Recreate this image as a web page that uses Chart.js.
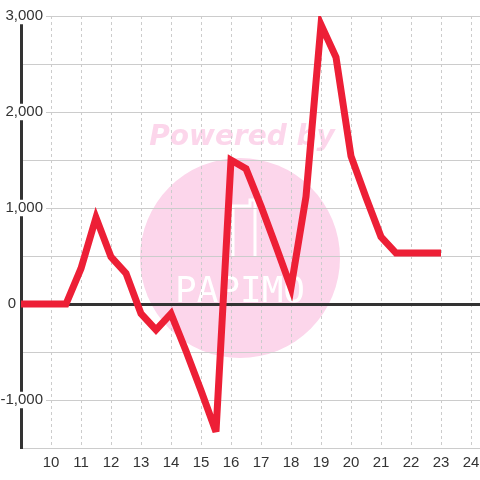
<!DOCTYPE html>
<html>
<head>
<meta charset="utf-8">
<script src="https://cdn.jsdelivr.net/npm/chart.js@4/dist/chart.umd.min.js"></script>
<style>
html, body { margin: 0; padding: 0; background: #fff; }
</style>
</head>
<body>
<canvas id="chart" width="480" height="480"></canvas>
<script>
// hour of day (x) and value (y)
let hours = [9, 9.5, 10, 10.5, 11, 11.5, 12, 12.5, 13, 13.5, 14, 14.5, 15, 15.5,
    16, 16.5, 17, 17.5, 18, 18.5, 19, 19.5, 20, 20.5, 21, 21.5, 22, 22.5, 23];
let values = [0, 0, 0, 0, 370, 900, 490, 320, -100, -270, -100, -490, -900, -1330,
    1500, 1410, 1020, 600, 170, 1120, 2910, 2570, 1540, 1110, 700, 530, 530, 530, 530];

let xMin = 9, xMax = 24.3;
let yMin = -1500, yMax = 3000, yStep = 500, yLabelStep = 1000;

let points = hours.map((h, i) => ({ x: h, y: values[i] }));

let tickFont = { family: 'Liberation Sans', size: 15, lineHeight: 1.1 };
let labelColor = '#333';

// "Powered by" watermark behind everything
let watermark = {
    id: 'watermark',
    beforeDraw(chart) {
        // y labels sit over the axis line, so don't clip them to the axis box
        chart.scales.y._computeLabelArea = () => undefined;
        chart.scales.yZero._computeLabelArea = () => undefined;

        let ctx = chart.ctx;
        ctx.save();
        ctx.fillStyle = '#fcd6eb';
        ctx.beginPath();
        ctx.arc(240, 258, 100, 0, Math.PI * 2);
        ctx.fill();
        ctx.font = 'italic bold 28px "DejaVu Sans"';
        ctx.textAlign = 'center';
        ctx.textBaseline = 'alphabetic';
        ctx.fillText('Powered by', 242, 145);
        ctx.strokeStyle = '#fff';
        ctx.lineWidth = 3;
        ctx.beginPath();
        ctx.moveTo(233, 256);
        ctx.lineTo(233, 206);
        ctx.lineTo(250, 206);
        ctx.lineTo(250, 200);
        ctx.lineTo(255, 200);
        ctx.lineTo(255, 256);
        ctx.stroke();
        ctx.fillStyle = '#fff';
        ctx.font = '36px "DejaVu Sans Mono"';
        ctx.fillText('PAPIMO', 240, 302);
        ctx.restore();
    },
    beforeDatasetsDraw(chart) {
        // sharp corners get cut flat like the original
        chart.ctx.miterLimit = 4;
    }
};

let isLabel = v => v % yLabelStep === 0 && v !== 0;

let chart = new Chart(document.getElementById('chart').getContext('2d'), {
    type: 'line',
    data: {
        datasets: [{
            data: points,
            borderColor: '#ed1f36',
            borderWidth: 7,
            pointRadius: 0,
            tension: 0,
            fill: false
        }]
    },
    options: {
        responsive: false,
        animation: false,
        layout: { padding: { top: 16, right: 0, left: 0, bottom: 0 } },
        plugins: { legend: { display: false }, tooltip: { enabled: false } },
        scales: {
            x: {
                type: 'linear',
                min: xMin,
                max: xMax,
                afterFit(s) { s.height = 32; s.paddingLeft = 0; s.paddingRight = 0; },
                grid: {
                    color: c => c.tick && c.tick.value === xMin ? 'rgba(0,0,0,0)' : '#ccc',
                    lineWidth: 1,
                    drawTicks: false,
                    tickLength: 0
                },
                border: { display: false, dash: [3, 3] },
                ticks: {
                    stepSize: 1,
                    includeBounds: false,
                    maxRotation: 0,
                    autoSkip: false,
                    padding: 7,
                    color: labelColor,
                    font: tickFont,
                    callback: v => v === xMin ? '' : String(v)
                }
            },
            y: {
                type: 'linear',
                position: 'left',
                weight: 1,
                min: yMin,
                max: yMax,
                afterFit(s) { s.width = 21; s.paddingTop = 0; s.paddingBottom = 0; },
                grid: {
                    color: c => c.tick && c.tick.value === 0 ? '#333' : '#ccc',
                    lineWidth: c => c.tick && c.tick.value === 0 ? 3 : 1,
                    drawTicks: false,
                    tickLength: 0
                },
                border: { display: true, color: '#333', width: 3 },
                ticks: {
                    z: 1,
                    stepSize: yStep,
                    padding: -22,
                    color: labelColor,
                    font: tickFont,
                    showLabelBackdrop: true,
                    backdropColor: c => isLabel(c.tick.value) ? '#fff' : 'rgba(0,0,0,0)',
                    backdropPadding: { top: 0, bottom: 0, left: 2, right: 3 },
                    callback: v => isLabel(v) ? v.toLocaleString('en-US') : ''
                }
            },
            yZero: {
                type: 'linear',
                position: 'left',
                weight: 0,
                min: yMin,
                max: yMax,
                afterFit(s) { s.width = 0; s.paddingTop = 0; s.paddingBottom = 0; },
                grid: { display: false, drawTicks: false, tickLength: 0 },
                border: { display: false },
                ticks: {
                    z: 1,
                    stepSize: yStep,
                    padding: 5,
                    color: labelColor,
                    font: tickFont,
                    callback: v => v === 0 ? '0' : ''
                }
            }
        }
    },
    plugins: [watermark]
});
</script>
</body>
</html>
